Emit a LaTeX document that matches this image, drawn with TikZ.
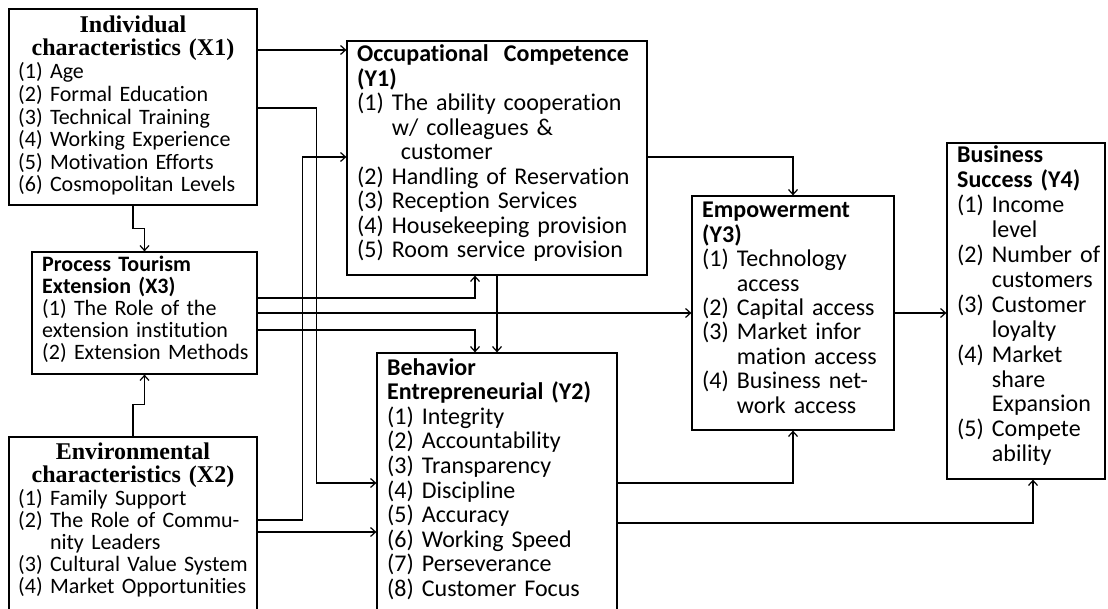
\documentclass[tikz,border=0pt]{standalone}
\usepackage{fontspec}
\setmainfont{Carlito}[Ligatures=NoCommon]
\newfontfamily\hdserif{Liberation Serif}
\usetikzlibrary{fit,arrows.meta}

\begin{document}
\begin{tikzpicture}[x=1pt,y=-1pt]
\tikzstyle{box}=[draw, rectangle, line width=1.2pt, inner sep=0pt]
\tikzstyle{line}=[draw, line width=1.2pt, -{Straight Barb[length=5pt,width=9pt]}]
\tikzstyle{items}=[anchor=base west, inner sep=0pt, align=left, text width=400pt, font=\fontsize{24}{24.5}\selectfont]
\tikzstyle{serifhead}=[anchor=base, inner sep=0pt, align=center, text width=240pt, font=\hdserif\bfseries\fontsize{24}{22.5}\selectfont]

\useasboundingbox (0,0) rectangle (1108,609);
\clip (0,0) rectangle (1108,609);

% Define boxes
\node[box, fit={(9,9) (257,205)}] (x1) {};
\node[box, fit={(32,252) (257,374)}] (x3) {};
\node[box, fit={(9,437) (257,625)}] (x2) {};
\node[box, fit={(347,41) (647,275)}] (y1) {};
\node[box, fit={(377,353) (617,625)}] (y2) {};
\node[box, fit={(692,196) (894,430)}] (y3) {};
\node[box, fit={(947,143) (1105,479)}] (y4) {};

% Box texts
\node[serifhead] (x1h) at (133,33) {Individual\\characteristics (X1)};
\node[items, font=\fontsize{22}{22.6}\selectfont] (x1t) at (18,79)
  {(1) Age\\(2) Formal Education\\(3) Technical Training\\(4) Working Experience\\(5) Motivation Efforts\\(6) Cosmopolitan Levels};
\node[items, font=\fontsize{22}{21.8}\selectfont] (x3t) at (42,272)
  {{\bfseries Process Tourism\\Extension (X3)}\\(1) The Role of the\\extension institution\\(2) Extension Methods};
\node[serifhead, font=\hdserif\bfseries\fontsize{24}{23}\selectfont] (x2h) at (133,459) {Environmental\\characteristics (X2)};
\node[items, font=\fontsize{22}{22}\selectfont] (x2t) at (18,505)
  {(1) Family Support\\(2) The Role of Commu-\\\phantom{(2) }nity Leaders\\(3) Cultural Value System\\(4) Market Opportunities};
\node[items] (y1t) at (357,62)
  {{\bfseries Occupational\hspace{0.3em} Competence\\(Y1)}\\(1) The ability cooperation\\\phantom{(1) }w/ colleagues \&\\\phantom{(1) }\hspace{9pt}customer\\(2) Handling of Reservation\\(3) Reception Services\\(4) Housekeeping provision\\(5) Room service provision};
\node[items, font=\fontsize{24}{24.6}\selectfont] (y2t) at (387,375)
  {{\bfseries Behavior\\Entrepreneurial (Y2)}\\(1) Integrity\\(2) Accountability\\(3) Transparency\\(4) Discipline\\(5) Accuracy\\(6) Working Speed\\(7) Perseverance\\(8) Customer Focus};
\node[items, font=\fontsize{24}{24.4}\selectfont] (y3t) at (702,218)
  {{\bfseries Empowerment\\(Y3)}\\(1) Technology\\\phantom{(1) }access\\(2) Capital access\\(3) Market infor\\\phantom{(3) }mation access\\(4) Business net-\\\phantom{(4) }work access};
\node[items, font=\fontsize{24}{24.9}\selectfont] (y4t) at (957,163)
  {{\bfseries Business\\Success (Y4)}\\(1) Income\\\phantom{(1) }level\\(2) Number of\\\phantom{(2) }customers\\(3) Customer\\\phantom{(3) }loyalty\\(4) Market\\\phantom{(4) }share\\\phantom{(4) }Expansion\\(5) Compete\\\phantom{(5) }ability};

% Draw connectors
\draw[line] (x1.east |- 0,50) -- (y1.west |- 0,50);
\draw[line] (x1.east |- 0,108) -- ++(59,0) |- (y2.west |- 0,483);
\draw[line] (x2.east |- 0,520) -- ++(45,0) |- (y1.west |- 0,157);
\draw[line] (x2.east |- 0,532) -- (y2.west |- 0,532);
\draw[line] (x1.south) -- ++(0,23) -| (x3.north);
\draw[line] (x2.north) -- ++(0,-32) -| (x3.south);
\draw[line] (x3.east |- 0,298) -| (y1.south -| 475,0);
\draw[line] (x3.east |- 0,313) -- (y3.west |- 0,313);
\draw[line] (x3.east |- 0,330) -| (y2.north -| 475,0);
\draw[line] (y1.south) -- (y2.north);
\draw[line] (y1.east |- 0,157) -| (y3.north);
\draw[line] (y2.east |- 0,483) -| (y3.south);
\draw[line] (y2.east |- 0,523) -| (y4.south -| 1033,0);
\draw[line] (y3.east |- 0,313) -- (y4.west |- 0,313);
\end{tikzpicture}
\end{document}
